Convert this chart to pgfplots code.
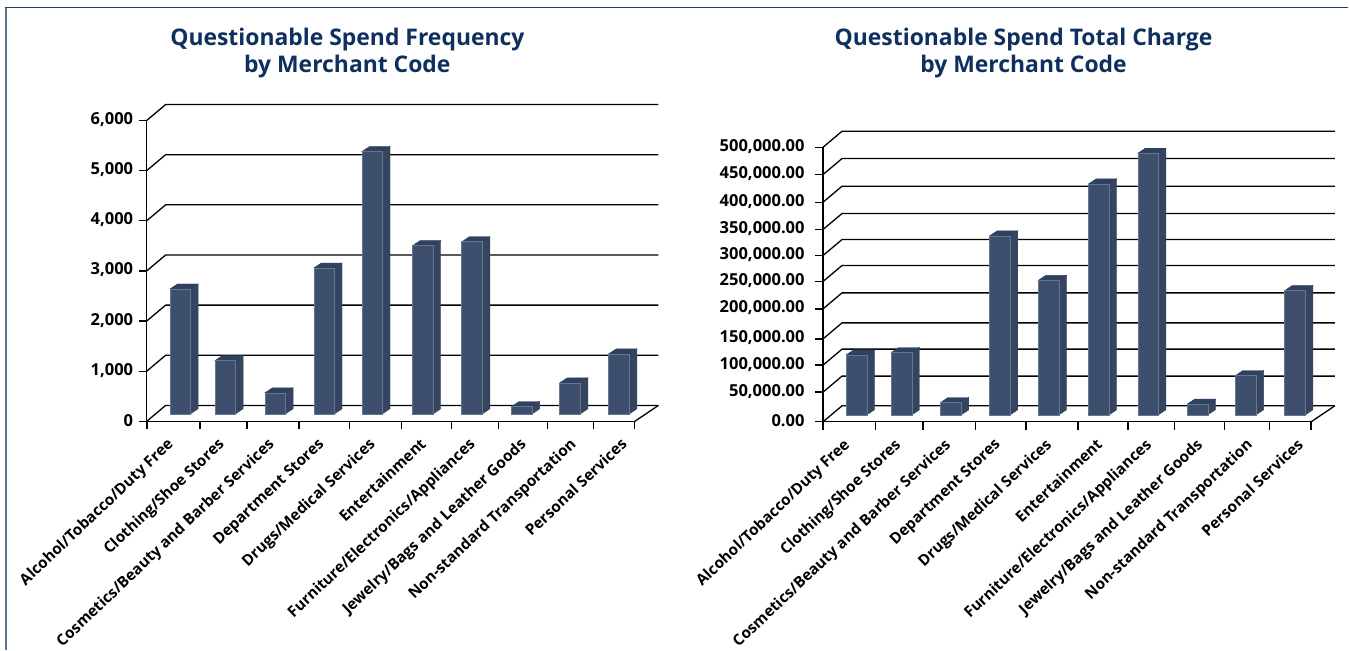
\documentclass[border=0pt]{standalone}
\usepackage{fontspec}
\setmainfont{Open Sans}
\usepackage{pgfplots}
\pgfplotsset{compat=1.18}

\definecolor{titleblue}{HTML}{0F2F5F}
\definecolor{framedark}{HTML}{1F3F68}
\definecolor{frameleft}{HTML}{5A7598}
\definecolor{barfront}{HTML}{3D4F6D}
\definecolor{barside}{HTML}{35455F}
\definecolor{bartop}{HTML}{2F4060}
\definecolor{baredge}{HTML}{66768F}

% one pixel of the reference is 1pt here
% \pu = data units per pixel, \ybase = lift of the bar foot off the front edge
\newcommand{\threedbar}[2]{%
  \pgfmathsetmacro{\xa}{#1}%
  \pgfmathsetmacro{\xb}{#1+20.7}%
  \pgfmathsetmacro{\xc}{#1+28.2}%
  \pgfmathsetmacro{\xd}{#1+7.5}%
  \pgfmathsetmacro{\ya}{\ybase*\pu}%
  \pgfmathsetmacro{\yb}{(\ybase+5)*\pu}%
  \pgfmathsetmacro{\yc}{\ybase*\pu+#2}%
  \pgfmathsetmacro{\yd}{(\ybase+5)*\pu+#2}%
  \addplot[fill=barside,draw=barside,line width=.4pt] coordinates {(\xb,\ya)(\xc,\yb)(\xc,\yd)(\xb,\yc)} --cycle;
  \addplot[fill=bartop,draw=bartop,line width=.4pt] coordinates {(\xa,\yc)(\xb,\yc)(\xc,\yd)(\xd,\yd)} --cycle;
  \addplot[fill=barfront,draw=baredge,line width=.6pt] coordinates {(\xa,\ya)(\xb,\ya)(\xb,\yc)(\xa,\yc)} --cycle;
}
% wall line for one tick: up the side wall, then along the back
\newcommand{\wall}[1]{%
  \pgfmathsetmacro{\yw}{#1+16*\pu}%
  \addplot[black,line width=1.3pt] coordinates {(0,#1)(19,\yw)(512,\yw)};
}

\pgfplotsset{
  threed/.style={
    scale only axis,
    width=488.3pt,
    clip=false,
    xmin=0,xmax=488.3,
    ymin=0,
    axis x line*=bottom,
    axis y line*=left,
    axis line style={black,line width=1.3pt,-},
    tick style={black,line width=1.3pt},
    major tick length=8pt,
    tick align=outside,
    xtick pos=bottom,
    ytick pos=left,
    yticklabel style={font=\fontsize{16.5}{16.5}\selectfont\bfseries,xshift=-2pt,yshift=1pt},
    xticklabels={},
    extra x tick style={
      major tick length=0pt,
      tick style={draw=none},
      xticklabel style={font=\fontsize{15.3}{15.3}\selectfont\bfseries,rotate=43.5,anchor=north east,inner sep=0pt,xshift=-17pt,yshift=-5pt},
    },
    extra x ticks={28.3,79.3,129.3,179.3,230.3,281.3,330.3,381.3,431.3,482.3},
    extra x tick labels={Alcohol/Tobacco/Duty Free,Clothing/Shoe Stores,Cosmetics/Beauty and Barber Services,Department Stores,Drugs/Medical Services,Entertainment,Furniture/Electronics/Appliances,Jewelry/Bags and Leather Goods,Non-standard Transportation,Personal Services},
  },
}

\begin{document}
\begin{tikzpicture}
\path[fill=white] (0pt,0pt) rectangle (1349pt,650pt);
\draw[frameleft,line width=1.6pt] (6pt,0pt) -- (6pt,642.5pt);
\draw[framedark,line width=1.2pt] (5.5pt,642.5pt) -- (1349pt,642.5pt);

\begin{axis}[threed,
    at={(146.7pt,228.4pt)},anchor=south west,
    height=301pt,ymax=6000,
    xtick={0.3,53.3,100.3,152.3,203.3,255,305,352.3,401.3,447.3,488.3},
    ytick={0,1000,2000,3000,4000,5000,6000},
    yticklabels={{0},{1,000},{2,000},{3,000},{4,000},{5,000},{6,000}},
  ]
  \def\pu{19.93}\def\ybase{7.6}
  \wall{0}\wall{1000}\wall{2000}\wall{3000}\wall{4000}\wall{5000}\wall{6000}
  \addplot[black,line width=1.3pt] coordinates {(488.3,0)(512,319)};
  \threedbar{23.3}{2490}
  \threedbar{68.3}{1062}
  \threedbar{118.3}{418}
  \threedbar{167.3}{2908}
  \threedbar{215.3}{5229}
  \threedbar{266}{3353}
  \threedbar{315.3}{3432}
  \threedbar{365}{145}
  \threedbar{413.3}{618}
  \threedbar{462.3}{1195}
\end{axis}

% values of this chart are in thousands
\begin{axis}[threed,
    at={(823.4pt,228pt)},anchor=south west,
    height=275pt,ymax=500,
    yticklabel style={xshift=-5pt},
    xtick={0,52.7,100,152.7,203,255,305,351.7,401.7,446.7,488.3},
    % the reference spaces its gridlines a little unevenly
    ytick={0,54,103.1,150.9,205.45,255.3,302.5,349.8,399.45,449.8,499.45},
    yticklabels={{0.00},{50,000.00},{100,000.00},{150,000.00},{200,000.00},{250,000.00},{300,000.00},{350,000.00},{400,000.00},{450,000.00},{500,000.00}},
  ]
  \def\pu{1.8182}\def\ybase{7}
  \wall{0}\wall{54}\wall{103.1}\wall{150.9}\wall{205.45}\wall{255.3}\wall{302.5}\wall{349.8}\wall{399.45}\wall{449.8}\wall{499.45}
  \addplot[black,line width=1.3pt] coordinates {(488.3,0)(512,29.09)};
  \threedbar{23.3}{109.1}
  \threedbar{68.3}{113.3}
  \threedbar{117.6}{22.4}
  \threedbar{166.6}{325.5}
  \threedbar{215.3}{244.5}
  \threedbar{265.6}{420}
  \threedbar{314.9}{475.8}
  \threedbar{364.3}{19.5}
  \threedbar{412.6}{71.5}
  \threedbar{461.9}{226}
\end{axis}

\node[font=\fontsize{22.9}{27}\selectfont\bfseries,text=titleblue,align=center] at (347.5pt,597pt) {Questionable Spend Frequency\\by Merchant Code};
\node[font=\fontsize{22.9}{27}\selectfont\bfseries,text=titleblue,align=center] at (1024pt,597pt) {Questionable Spend Total Charge\\by Merchant Code};
\end{tikzpicture}
\end{document}
